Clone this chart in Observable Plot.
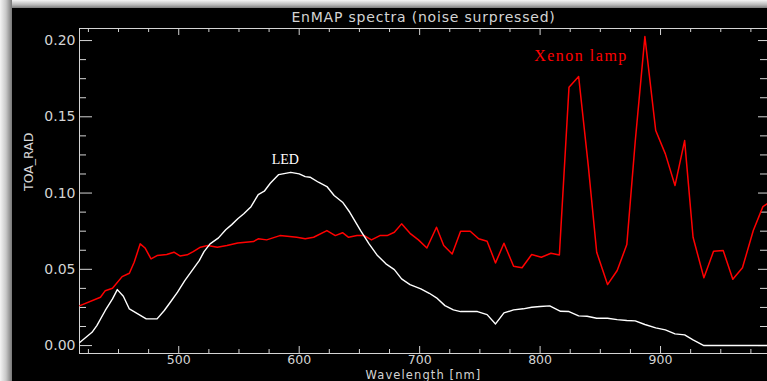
<!DOCTYPE html>
<html>
<head>
<meta charset="utf-8">
<script src="https://cdn.jsdelivr.net/npm/d3@7"></script>
<script src="https://cdn.jsdelivr.net/npm/@observablehq/plot@0.6"></script>
<style>
  html, body { margin: 0; padding: 0; background: #000; overflow: hidden; }
  #wrap { position: relative; width: 767px; height: 381px; }
  #shadeTop { position: absolute; left: 0; top: 0; width: 767px; height: 8px;
    background: linear-gradient(to bottom, #f4f4f4, #b8b8b8 60%, #7a7a7a); }
  #shadeLeft { position: absolute; left: 0; top: 0; width: 12px; height: 381px;
    background: linear-gradient(to right, #f4f4f4, #c8c8c8 50%, #777); }
</style>
</head>
<body>
<div id="wrap"><div id="chart"></div><div id="shadeTop"></div><div id="shadeLeft"></div></div>
<script>
const title = "EnMAP spectra (noise surpressed)";
const xLabel = "Wavelength [nm]";
const yLabel = "TOA_RAD";

const xDomain = [417.6, 988.8];
const yDomain = [-0.0052, 0.2079];
const xMajor = [500, 600, 700, 800, 900];
const xMinor = [425, 450, 475, 525, 550, 575, 625, 650, 675, 725, 750, 775, 825, 850, 875, 925, 950, 975];
const yMajor = [0, 0.05, 0.10, 0.15, 0.20];
const yMinor = [0.0125, 0.025, 0.0375, 0.0625, 0.075, 0.0875, 0.1125, 0.125, 0.1375, 0.1625, 0.175, 0.1875];

const ledWl = [418,428,432,439,445,449,454,459,466,473,482,488,493,499,505,511,517,521,526,533,539,544,549,554,560,566,571,576,583,593,600,605,609,616,623,629,636,642,651,658,665,672,679,685,692,701,708,714,721,728,734,748,756,763,770,778,786,793,800,808,817,824,832,839,847,856,864,872,879,887,896,904,912,920,927,936,989];
const ledVal = [0.0022,0.0087,0.0131,0.023,0.0306,0.0367,0.0323,0.024,0.0208,0.0175,0.0175,0.023,0.0284,0.035,0.0426,0.0492,0.0557,0.0616,0.0667,0.0706,0.0759,0.0793,0.0831,0.0864,0.0911,0.099,0.1012,0.1064,0.1121,0.1136,0.1126,0.1108,0.1104,0.1071,0.1043,0.0984,0.094,0.0874,0.0754,0.0667,0.059,0.0536,0.0498,0.0437,0.04,0.0372,0.0343,0.0313,0.0262,0.0234,0.0223,0.0223,0.0203,0.0142,0.0214,0.0234,0.0241,0.0251,0.0256,0.026,0.0225,0.0223,0.0195,0.0192,0.0179,0.0179,0.017,0.0164,0.0162,0.0138,0.0116,0.0103,0.0077,0.007,0.0037,0,0];

const xeWl = [418,435,439,445,453,459,463,468,472,477,482,490,496,501,507,512,518,524,532,540,549,562,566,573,584,598,605,612,623,630,636,641,648,654,660,667,673,679,685,692,699,706,714,720,727,734,742,749,756,763,770,778,785,793,801,809,816,824,832,840,847,856,864,872,879,887,896,904,912,920,927,936,944,952,960,968,977,985,989];
const xeVal = [0.0262,0.0317,0.036,0.0376,0.0452,0.0474,0.0546,0.0667,0.064,0.0568,0.059,0.0597,0.0612,0.0588,0.0595,0.0616,0.0645,0.0656,0.0645,0.0656,0.0673,0.0682,0.07,0.0693,0.0721,0.071,0.07,0.071,0.0754,0.0721,0.074,0.071,0.0721,0.0721,0.0693,0.0721,0.0721,0.0743,0.0798,0.0736,0.0693,0.064,0.0776,0.0656,0.0601,0.075,0.075,0.07,0.0684,0.0542,0.0671,0.052,0.051,0.0597,0.0579,0.0605,0.0594,0.1694,0.1764,0.118,0.0612,0.04,0.0492,0.0662,0.134,0.2026,0.141,0.1257,0.1049,0.1344,0.071,0.0444,0.0618,0.0623,0.0435,0.051,0.0754,0.0911,0.0933];

const seriesNames = ["LED", "Xenon lamp"];
const seriesColors = ["#ffffff", "#ff0000"];
const labelX = [588.5, 834];
const labelY = [0.1191, 0.1869];

const led = ledWl.map((w, i) => ({w, v: ledVal[i]}));
const xe = xeWl.map((w, i) => ({w, v: xeVal[i]}));
const labels = seriesNames.map((s, i) => ({s, x: labelX[i], y: labelY[i], c: seriesColors[i]}));

const W = 767, H = 381, mL = 79, mR = 0, mT = 28, mB = 28;
const fw = W - mL - mR, fh = H - mT - mB;
const axisColor = "#d4d4d4";
const font = "DejaVu Sans";

const chart = Plot.plot({
  width: W, height: H,
  marginLeft: mL, marginRight: mR, marginTop: mT, marginBottom: mB,
  style: {background: "#000", color: axisColor, fontFamily: font, fontSize: "14px", overflow: "visible"},
  x: {domain: xDomain},
  y: {domain: yDomain},
  marks: [
    Plot.ruleY([yDomain[0], yDomain[1]], {stroke: axisColor, strokeWidth: 1}),
    Plot.ruleX([xDomain[0]], {stroke: axisColor, strokeWidth: 1}),
    Plot.tickX(xMajor, {x: d => d, insetTop: fh - 7, stroke: axisColor}),
    Plot.tickX(xMinor, {x: d => d, insetTop: fh - 4, stroke: axisColor}),
    Plot.tickX(xMajor, {x: d => d, insetBottom: fh - 7, stroke: axisColor}),
    Plot.tickX(xMinor, {x: d => d, insetBottom: fh - 4, stroke: axisColor}),
    Plot.tickY(yMajor, {y: d => d, insetRight: fw - 13, stroke: axisColor}),
    Plot.tickY(yMinor, {y: d => d, insetRight: fw - 7, stroke: axisColor}),
    Plot.tickY(yMajor, {y: d => d, insetLeft: fw - 9, stroke: axisColor}),
    Plot.tickY(yMinor, {y: d => d, insetLeft: fw - 7, stroke: axisColor}),
    Plot.axisX(xMajor, {anchor: "bottom", tickSize: 0, tickPadding: 1.5, tickFormat: d => String(d), label: null, fontSize: 12.5, fill: axisColor}),
    Plot.axisY(yMajor, {anchor: "left", tickSize: 0, tickPadding: 4, tickFormat: d => d.toFixed(2), label: null, fontSize: 14, fill: axisColor}),
    Plot.line(xe, {x: "w", y: "v", stroke: seriesColors[1], strokeWidth: 1.5}),
    Plot.line(led, {x: "w", y: "v", stroke: seriesColors[0], strokeWidth: 1.4}),
    Plot.text(labels, {x: "x", y: "y", text: "s", fill: "c", lineAnchor: "bottom", textAnchor: "middle",
      fontFamily: "Liberation Serif", fontSize: d => d.s === "LED" ? 14 : 16}),
    Plot.text([title], {frameAnchor: "top", dy: -10.5, lineAnchor: "middle", fontSize: 14, fill: axisColor}),
    Plot.text([xLabel], {frameAnchor: "bottom", dy: 21.5, lineAnchor: "middle", fontSize: 11.5, fill: axisColor}),
    Plot.text([yLabel], {frameAnchor: "left", dx: -51, rotate: -90, lineAnchor: "middle", fontSize: 12.5, fill: axisColor})
  ]
});
document.getElementById("chart").appendChild(chart);
chart.querySelectorAll("text").forEach(t => {
  if (t.textContent === "Xenon lamp") t.setAttribute("letter-spacing", "1.5");
  if (t.textContent === title) t.setAttribute("letter-spacing", "0.8");
  if (t.textContent === xLabel) t.setAttribute("letter-spacing", "1.1");
});
</script>
</body>
</html>
